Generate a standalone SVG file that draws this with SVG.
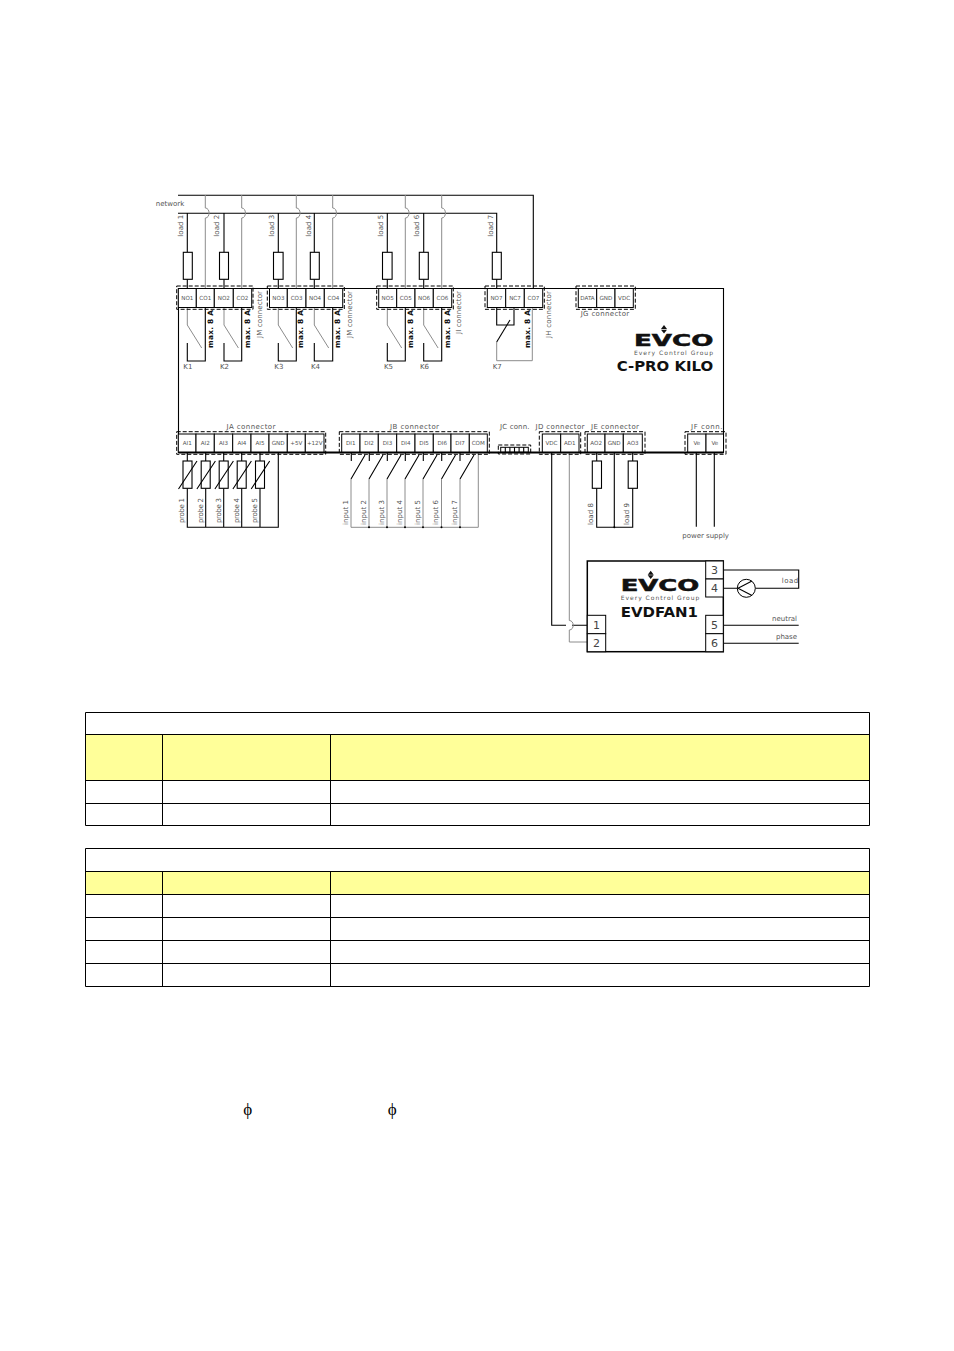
<svg xmlns="http://www.w3.org/2000/svg" width="954" height="1351" viewBox="0 0 954 1351">
<style>
text{font-family:"DejaVu Sans","Liberation Sans",sans-serif;fill:#555;font-size:7px}
.c{text-anchor:middle;font-size:5.6px}
.m{text-anchor:middle}
.mx{font-weight:bold;font-size:7.4px;fill:#111}
.n{text-anchor:middle;font-size:11px;fill:#444}
.k{stroke:#000;stroke-width:1.1;fill:none}
.g{stroke:#8c8c8c;stroke-width:1;fill:none}
.th{stroke:#000;stroke-width:1.8;fill:none}
.cell{stroke:#000;stroke-width:1;fill:#fff}
.fuse{stroke:#000;stroke-width:1.1;fill:#fff}
.d{stroke:#000;stroke-width:1;stroke-dasharray:4 2;fill:none}
.b{font-weight:bold;fill:#111;font-size:13.7px}
.logo{font-weight:bold;fill:#111;stroke:#111;stroke-width:.5;font-size:15.6px}
.eg{font-size:6px;fill:#555}
.y{fill:#ffff99}
.t{fill:none;stroke:#000;stroke-width:1}
.phi{font-family:"Liberation Serif","DejaVu Serif",serif;font-size:17px;fill:#000;text-anchor:middle}
</style>

<g id="board">
<path class="k" d="M178.5 288.5H723.5V452.5M178.5 288.5V452.5"/>
</g>

<g id="connectors">
<path class="k" d="M178 195.2H533.3V289M178 213.3H496.7V252.3M187.3 213.3V252.3M187.3 279.3V289M224 213.3V252.3M224 279.3V289M278.3 213.3V252.3M278.3 279.3V289M314.3 213.3V252.3M314.3 279.3V289M387.3 213.3V252.3M387.3 279.3V289M423.7 213.3V252.3M423.7 279.3V289M496.7 279.3V289"/>
<path class="g" d="M205.3 195V208C210.3 208 210.3 218 205.3 218V289M241.7 195V208C246.7 208 246.7 218 241.7 218V289M296.3 195V208C301.3 208 301.3 218 296.3 218V289M332.7 195V208C337.7 208 337.7 218 332.7 218V289M405.3 195V208C410.3 208 410.3 218 405.3 218V289M441.7 195V208C446.7 208 446.7 218 441.7 218V289"/>
<path class="g" d="M187.3 308V325L201.7 348M224 308V325L238.4 348M278.3 308V325L292.7 348M314.3 308V325L328.7 348M387.3 308V325L401.7 348M423.7 308V325L438.1 348"/>
<path class="k" d="M187.3 343V361H205.3V308M224 343V361H241.7V308M278.3 343V361H296.3V308M314.3 343V361H332.7V308M387.3 343V361H405.3V308M423.7 343V361H441.7V308"/>
<path class="k" d="M496.7 308V325H514V308"/>
<path class="k" d="M510 320L496.7 342"/>
<path class="g" d="M496.7 342V360.7H532.3V308"/>

<path class="k" d="M187.3 452V461M187.3 488.3V527.3H278.3V452M205.7 452V461M205.7 488.3V527.3M223.7 452V461M223.7 488.3V527.3M241.7 452V461M241.7 488.3V527.3M260 452V461M260 488.3V527.3"/>

<path class="k" d="M351.3 452V461M369.3 452V461M387.3 452V461M405.3 452V461M423.3 452V461M441.7 452V461M460 452V461"/>
<path class="k" d="M365 455L351 479M383 455L369 479M401 455L387 479M419 455L405 479M437 455L423 479M455.5 455L441.5 479M474 455L460 479"/>
<path class="g" d="M351 479V527.3H478.3V452M369 479V527M387 479V527M405 479V527M423 479V527M441.5 479V527M460 479V527"/>
<g fill="#000"><circle cx="369" cy="527.3" r="1"/><circle cx="387" cy="527.3" r="1"/><circle cx="405" cy="527.3" r="1"/><circle cx="423" cy="527.3" r="1"/><circle cx="441.5" cy="527.3" r="1"/><circle cx="460" cy="527.3" r="1"/><circle cx="614.3" cy="527.3" r="1"/></g>

<path class="k" d="M596.7 452V461M596.7 488.3V527.3H632.7V488.3M632.7 461V452M614.3 452V527.3M696.3 452V526.7M714.3 452V526.7"/>
<path class="k" d="M551.7 452V625.3H566M572 625.3H587.3"/>
<path class="g" d="M569.3 452V620.5C574.5 620.5 574.5 630 569.3 630V642H587.3"/>
<path class="k" d="M723.3 570H798.7V588.3H755.3M723.3 588.3H737.3M723.3 625.3H798.7M723.3 643.3H798.7"/>
</g>

<g id="load-fuses">
<rect class="fuse" x="183.3" y="252.3" width="9" height="27"/>
<rect class="fuse" x="219.5" y="252.3" width="9" height="27"/>
<rect class="fuse" x="273.5" y="252.3" width="9.6" height="27"/>
<rect class="fuse" x="310.3" y="252.3" width="9" height="27"/>
<rect class="fuse" x="382.5" y="252.3" width="9.6" height="27"/>
<rect class="fuse" x="419.3" y="252.3" width="9" height="27"/>
<rect class="fuse" x="492.3" y="252.3" width="9" height="27"/>
<rect class="fuse" x="592.3" y="461" width="9.2" height="27.3"/>
<rect class="fuse" x="628.2" y="461" width="9.2" height="27.3"/>
</g>

<g id="probes">
<rect class="fuse" x="183" y="461" width="9" height="27.3"/>
<rect class="fuse" x="201.2" y="461" width="9" height="27.3"/>
<rect class="fuse" x="219.2" y="461" width="9" height="27.3"/>
<rect class="fuse" x="237.2" y="461" width="9" height="27.3"/>
<rect class="fuse" x="255.5" y="461" width="9" height="27.3"/>
<path class="k" stroke-width=".9" d="M178.5 489L197 461M196.9 489L215.4 461M214.9 489L233.4 461M232.9 489L251.4 461M251.2 489L269.7 461"/>
</g>

<g id="jk-connector">
<rect class="d" x="176.7" y="286" width="76.3" height="23.3"/>
<rect class="cell" x="178.3" y="288.5" width="18" height="19"/><rect class="cell" x="196.3" y="288.5" width="18" height="19"/><rect class="cell" x="214.3" y="288.5" width="19" height="19"/><rect class="cell" x="233.3" y="288.5" width="18.4" height="19"/>
<text class="c" x="187.3" y="300">NO1</text><text class="c" x="205.3" y="300">CO1</text><text class="c" x="223.8" y="300">NO2</text><text class="c" x="242.5" y="300">CO2</text>
</g>
<g id="jm-connector">
<rect class="d" x="267.3" y="286" width="77" height="23.3"/>
<rect class="cell" x="269.5" y="288.5" width="17.8" height="19"/><rect class="cell" x="287.3" y="288.5" width="18.7" height="19"/><rect class="cell" x="306" y="288.5" width="18.3" height="19"/><rect class="cell" x="324.3" y="288.5" width="18.4" height="19"/>
<text class="c" x="278.4" y="300">NO3</text><text class="c" x="296.6" y="300">CO3</text><text class="c" x="315.1" y="300">NO4</text><text class="c" x="333.5" y="300">CO4</text>
</g>
<g id="ji-connector">
<rect class="d" x="376.7" y="286" width="76.6" height="23.3"/>
<rect class="cell" x="378.7" y="288.5" width="18" height="19"/><rect class="cell" x="396.7" y="288.5" width="18.3" height="19"/><rect class="cell" x="415" y="288.5" width="18.3" height="19"/><rect class="cell" x="433.3" y="288.5" width="18.4" height="19"/>
<text class="c" x="387.7" y="300">NO5</text><text class="c" x="405.8" y="300">CO5</text><text class="c" x="424.1" y="300">NO6</text><text class="c" x="442.5" y="300">CO6</text>
</g>
<g id="jh-connector">
<rect class="d" x="485" y="286" width="59.3" height="23.3"/>
<rect class="cell" x="487.3" y="288.5" width="18.4" height="19"/><rect class="cell" x="505.7" y="288.5" width="18.6" height="19"/><rect class="cell" x="524.3" y="288.5" width="18.4" height="19"/>
<text class="c" x="496.5" y="300">NO7</text><text class="c" x="515" y="300">NC7</text><text class="c" x="533.5" y="300">CO7</text>
</g>
<g id="jg-connector">
<rect class="d" x="576" y="286" width="59.3" height="23.3"/>
<rect class="cell" x="578.3" y="288.5" width="18.4" height="19"/><rect class="cell" x="596.7" y="288.5" width="18.3" height="19"/><rect class="cell" x="615" y="288.5" width="18.3" height="19"/>
<text class="c" x="587.5" y="300">DATA</text><text class="c" x="605.8" y="300">GND</text><text class="c" x="624.1" y="300">VDC</text>
<text x="580.7" y="316" textLength="48.5">JG  connector</text>
</g>

<g id="ja-connector">
<rect class="d" x="176.7" y="431.7" width="149" height="22.6"/>
<rect class="cell" x="178.3" y="434" width="17.7" height="18.5"/><rect class="cell" x="196" y="434" width="18.3" height="18.5"/><rect class="cell" x="214.3" y="434" width="18.4" height="18.5"/><rect class="cell" x="232.7" y="434" width="18.3" height="18.5"/><rect class="cell" x="251" y="434" width="18" height="18.5"/><rect class="cell" x="269" y="434" width="18.3" height="18.5"/><rect class="cell" x="287.3" y="434" width="18" height="18.5"/><rect class="cell" x="305.3" y="434" width="18.7" height="18.5"/>
<text class="c" x="187.2" y="445.2">AI1</text><text class="c" x="205.2" y="445.2">AI2</text><text class="c" x="223.5" y="445.2">AI3</text><text class="c" x="241.9" y="445.2">AI4</text><text class="c" x="260" y="445.2">AI5</text><text class="c" x="278.2" y="445.2">GND</text><text class="c" x="296.3" y="445.2">+5V</text><text class="c" x="314.7" y="445.2">+12V</text>
<text x="226.5" y="429" textLength="49">JA  connector</text>
</g>
<g id="jb-connector">
<rect class="d" x="339.3" y="431.7" width="150" height="22.6"/>
<rect class="cell" x="341.7" y="434" width="18.3" height="18.5"/><rect class="cell" x="360" y="434" width="18.3" height="18.5"/><rect class="cell" x="378.3" y="434" width="18.4" height="18.5"/><rect class="cell" x="396.7" y="434" width="18.3" height="18.5"/><rect class="cell" x="415" y="434" width="18.3" height="18.5"/><rect class="cell" x="433.3" y="434" width="17.7" height="18.5"/><rect class="cell" x="451" y="434" width="18.3" height="18.5"/><rect class="cell" x="469.3" y="434" width="18" height="18.5"/>
<text class="c" x="350.8" y="445.2">DI1</text><text class="c" x="369.1" y="445.2">DI2</text><text class="c" x="387.5" y="445.2">DI3</text><text class="c" x="405.8" y="445.2">DI4</text><text class="c" x="424.1" y="445.2">DI5</text><text class="c" x="442.2" y="445.2">DI6</text><text class="c" x="460.1" y="445.2">DI7</text><text class="c" x="478.3" y="445.2">COM</text>
<text x="390" y="429" textLength="49">JB  connector</text>
</g>
<g id="jc-connector">
<rect class="d" x="498.3" y="445" width="32.4" height="9"/>
<rect class="cell" x="500.7" y="447.3" width="27.6" height="5"/>
<path class="k" d="M505.3 447.3v5M509.9 447.3v5M514.5 447.3v5M519.1 447.3v5M523.7 447.3v5"/>
<text x="500" y="429" textLength="29.5">JC conn.</text>
</g>
<g id="jd-connector">
<rect class="d" x="539.3" y="431.7" width="41.4" height="22.6"/>
<rect class="cell" x="542.3" y="434" width="18.4" height="18.5"/><rect class="cell" x="560.7" y="434" width="18.3" height="18.5"/>
<text class="c" x="551.5" y="445.2">VDC</text><text class="c" x="569.8" y="445.2">AD1</text>
<text x="535.5" y="429" textLength="49">JD  connector</text>
</g>
<g id="je-connector">
<rect class="d" x="585" y="431.7" width="60" height="22.6"/>
<rect class="cell" x="587.3" y="434" width="17.7" height="18.5"/><rect class="cell" x="605" y="434" width="18.3" height="18.5"/><rect class="cell" x="623.3" y="434" width="19" height="18.5"/>
<text class="c" x="596.2" y="445.2">AO2</text><text class="c" x="614.2" y="445.2">GND</text><text class="c" x="632.8" y="445.2">AO3</text>
<text x="591" y="429" textLength="48">JE  connector</text>
</g>
<g id="jf-connector">
<rect class="d" x="685" y="431.7" width="41" height="22.6"/>
<rect class="cell" x="687.7" y="434" width="18.3" height="18.5"/><rect class="cell" x="706" y="434" width="17.5" height="18.5"/>
<text class="c" x="696.8" y="445.2">Ve</text><text class="c" x="714.8" y="445.2">Ve</text>
<text x="691" y="429" textLength="31.5">JF conn.</text>
</g>

<g id="bus">
<path class="th" d="M178.5 452.5H723.5"/>
</g>

<g id="labels">
<text x="155.7" y="205.5" textLength="28.5">network</text>
<text transform="translate(182.5 236.7) rotate(-90)" textLength="22">load 1</text>
<text transform="translate(219.2 236.7) rotate(-90)" textLength="22">load 2</text>
<text transform="translate(274.2 236.7) rotate(-90)" textLength="22">load 3</text>
<text transform="translate(310.5 236.7) rotate(-90)" textLength="22">load 4</text>
<text transform="translate(383.2 236.7) rotate(-90)" textLength="22">load 5</text>
<text transform="translate(419.2 236.7) rotate(-90)" textLength="22">load 6</text>
<text transform="translate(492.5 236.7) rotate(-90)" textLength="22">load 7</text>
<text transform="translate(261.8 338) rotate(-90)" textLength="47">JM  connector</text>
<text transform="translate(351.8 338) rotate(-90)" textLength="47">JM  connector</text>
<text transform="translate(460.8 334) rotate(-90)" textLength="43">JI  connector</text>
<text transform="translate(550.8 338) rotate(-90)" textLength="47">JH  connector</text>
<text class="mx" transform="translate(212.8 348) rotate(-90)" textLength="38">max. 8 A</text>
<text class="mx" transform="translate(249.5 348) rotate(-90)" textLength="38">max. 8 A</text>
<text class="mx" transform="translate(302.8 348) rotate(-90)" textLength="38">max. 8 A</text>
<text class="mx" transform="translate(340.1 348) rotate(-90)" textLength="38">max. 8 A</text>
<text class="mx" transform="translate(412.8 348) rotate(-90)" textLength="38">max. 8 A</text>
<text class="mx" transform="translate(449.8 348) rotate(-90)" textLength="38">max. 8 A</text>
<text class="mx" transform="translate(529.5 348) rotate(-90)" textLength="38">max. 8 A</text>
<text x="183.3" y="368.5">K1</text><text x="220" y="368.5">K2</text><text x="274.3" y="368.5">K3</text><text x="311" y="368.5">K4</text><text x="384" y="368.5">K5</text><text x="420" y="368.5">K6</text><text x="492.7" y="368.5">K7</text>
<text transform="translate(184.2 523) rotate(-90)" textLength="25">probe 1</text>
<text transform="translate(202.5 523) rotate(-90)" textLength="25">probe 2</text>
<text transform="translate(220.8 523) rotate(-90)" textLength="25">probe 3</text>
<text transform="translate(238.5 523) rotate(-90)" textLength="25">probe 4</text>
<text transform="translate(256.5 523) rotate(-90)" textLength="25">probe 5</text>
<text transform="translate(347.5 525) rotate(-90)" textLength="25">input 1</text>
<text transform="translate(365.5 525) rotate(-90)" textLength="25">input 2</text>
<text transform="translate(383.5 525) rotate(-90)" textLength="25">input 3</text>
<text transform="translate(401.5 525) rotate(-90)" textLength="25">input 4</text>
<text transform="translate(420.2 525) rotate(-90)" textLength="25">input 5</text>
<text transform="translate(438.2 525) rotate(-90)" textLength="25">input 6</text>
<text transform="translate(456.5 525) rotate(-90)" textLength="25">input 7</text>
<text transform="translate(592.5 525) rotate(-90)" textLength="22">load 8</text>
<text transform="translate(628.5 525) rotate(-90)" textLength="22">load 9</text>
<text x="682.3" y="537.5" textLength="46.7">power supply</text>
</g>

<g id="cpro-logo">
<path fill="#111" d="M664 325l3 4h-6zM664 333.5l3-3.8h-6z"/>
<text class="logo" x="634" y="345.7" textLength="79.3" lengthAdjust="spacingAndGlyphs">EVCO</text>
<text class="eg" x="634" y="355" textLength="79">Every Control Group</text>
<text class="b" x="616.7" y="371" textLength="96.6" lengthAdjust="spacingAndGlyphs">C-PRO KILO</text>
</g>

<g id="evdfan1">
<rect x="587.3" y="561" width="136" height="90.7" fill="#fff" stroke="#000" stroke-width="1.5"/>
<rect class="cell" x="705.7" y="561" width="17.6" height="18"/><rect class="cell" x="705.7" y="579" width="17.6" height="18"/><rect class="cell" x="705.7" y="615.3" width="17.6" height="18.4"/><rect class="cell" x="705.7" y="633.7" width="17.6" height="18"/><rect class="cell" x="587.3" y="615.3" width="18.4" height="18.4"/><rect class="cell" x="587.3" y="633.7" width="18.4" height="18"/>
<text class="n" x="714.5" y="574">3</text><text class="n" x="714.5" y="592">4</text><text class="n" x="714.5" y="628.5">5</text><text class="n" x="714.5" y="646.5">6</text><text class="n" x="596.5" y="628.5">1</text><text class="n" x="596.5" y="646.5">2</text>
<path fill="#111" d="M650.7 570.7l3 4h-6zM650.7 579l3-3.8h-6z"/>
<text class="logo" x="620.7" y="590.7" textLength="78.6" lengthAdjust="spacingAndGlyphs">EVCO</text>
<text class="eg" x="620.7" y="600.3" textLength="78.6">Every Control Group</text>
<text class="b" x="620.7" y="616.7" textLength="77.3" lengthAdjust="spacingAndGlyphs">EVDFAN1</text>
<text x="781.7" y="583" textLength="16.5">load</text>
<text x="772" y="620.5" textLength="25">neutral</text>
<text x="776" y="638.5" textLength="21">phase</text>
</g>
<g id="pump">
<circle cx="746.3" cy="588.3" r="9" fill="#fff" stroke="#000" stroke-width="1"/>
<path class="k" d="M752 581L738 588.3L752 595.6"/>
</g>

<g id="table-1">
<rect class="y" x="85.5" y="734.5" width="784" height="46"/>
<path class="t" d="M85.5 712.5H869.500V825.500H85.500ZM85.500 734.500H869.500M85.500 780.500H869.500M85.500 803.500H869.500M162.500 734.500V825.500M330.500 734.500V825.500"/>
</g>
<g id="table-2">
<rect class="y" x="85.5" y="871.5" width="784" height="23"/>
<path class="t" d="M85.5 848.5H869.500V986.500H85.500ZM85.500 871.500H869.500M85.500 894.500H869.500M85.500 917.500H869.500M85.500 940.500H869.500M85.500 963.500H869.500M162.500 871.500V986.500M330.500 871.500V986.500"/>
</g>
<g id="phi-symbols">
<text class="phi" x="247.7" y="1115">ϕ</text>
<text class="phi" x="392.3" y="1115">ϕ</text>
</g>
</svg>
